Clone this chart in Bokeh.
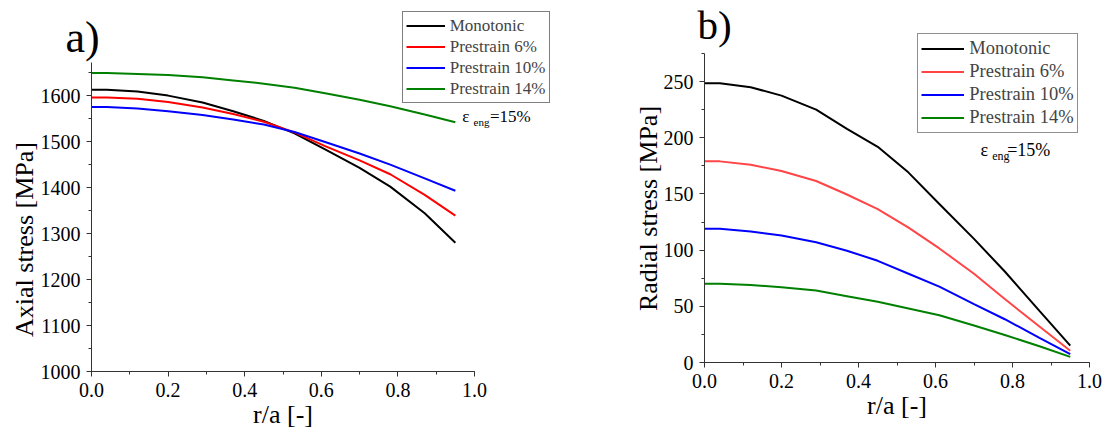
import math
from bokeh.plotting import figure
from bokeh.layouts import row
from bokeh.models import (Legend, LegendItem, Label, LinearAxis, SingleIntervalTicker,
                          NumeralTickFormatter, Range1d)
from bokeh.embed import file_html
from bokeh.resources import INLINE

# normalised radius r/a
r = [0.0, 0.04, 0.12, 0.2, 0.29, 0.37, 0.45, 0.53, 0.61, 0.7, 0.78, 0.87, 0.95]

# axial stress [MPa]
axial_mono = [1613, 1613, 1609, 1600, 1585, 1566, 1545, 1518, 1483, 1443, 1402, 1344, 1280]
axial_6 = [1596, 1596, 1593, 1586, 1574, 1560, 1543, 1520, 1490, 1459, 1429, 1384, 1339]
axial_10 = [1575, 1575, 1572, 1566, 1558, 1548, 1537, 1521, 1499, 1474, 1450, 1420, 1393]
axial_14 = [1649, 1649, 1647, 1645, 1640, 1633, 1626, 1617, 1605, 1591, 1577, 1559, 1542]

# radial stress [MPa]
radial_mono = [248.5, 248.5, 245, 237.5, 225, 208, 192, 169, 141, 110, 81, 46, 15]
radial_6 = [179, 179, 176, 170.5, 161.5, 149.5, 136.5, 120, 101.5, 79, 56.5, 32, 10.5]
radial_10 = [119, 119, 116.5, 113, 107, 99.5, 90.5, 79, 67.5, 52, 38.5, 22, 7.5]
radial_14 = [70, 70, 69, 67, 64, 59, 54, 48, 42, 33, 24.5, 14.5, 5]

series_names = ["Monotonic", "Prestrain 6%", "Prestrain 10%", "Prestrain 14%"]

FONT = "Liberation Serif"
QFONT = '"Liberation Serif", serif'
AXIS_COLOR = "#333333"
W, H = 553, 439


def make_panel(x0_px, x1_px, y_lo, y_hi, y0_px, y1_px, y_interval):
    """Figure whose frame fills the canvas; axes sit at x=0 and y=y_lo."""
    sx = (x1_px - x0_px)            # px per unit of r/a
    sy = (y0_px - y1_px) / (y_hi - y_lo)
    xr = Range1d(-x0_px / sx, (W - x0_px) / sx)
    yr = Range1d(y_lo - (H - y0_px) / sy, y_lo + y0_px / sy)
    p = figure(width=W, height=H, output_backend="svg", toolbar_location=None,
               x_range=xr, y_range=yr, x_axis_type=None, y_axis_type=None,
               min_border=0, background_fill_color="white", border_fill_color="white")
    p.outline_line_color = None
    xaxis = LinearAxis(fixed_location=y_lo, bounds=(0, 1.0),
                       ticker=SingleIntervalTicker(interval=0.2, num_minor_ticks=2),
                       formatter=NumeralTickFormatter(format="0.0"))
    yaxis = LinearAxis(fixed_location=0, bounds=(y_lo, y_hi),
                       ticker=SingleIntervalTicker(interval=y_interval, num_minor_ticks=2))
    for ax in (xaxis, yaxis):
        ax.axis_line_color = AXIS_COLOR
        ax.axis_line_width = 1
        ax.major_tick_line_color = AXIS_COLOR
        ax.minor_tick_line_color = AXIS_COLOR
        ax.major_tick_out = 5
        ax.major_tick_in = 0
        ax.minor_tick_out = 3
        ax.minor_tick_in = 0
        ax.major_label_text_font = QFONT
        ax.major_label_text_font_size = "20px"
        ax.major_label_text_color = "black"
        ax.major_label_standoff = 6
    p.add_layout(xaxis, "below")
    p.add_layout(yaxis, "left")
    return p, sx, sy


def add_text(p, x, y, text, size, **kw):
    p.add_layout(Label(x=x, y=y, text=text, text_font=FONT, text_font_size=size,
                       text_color="black", **kw))


def add_legend(p, renderers, loc, font_size, glyph_w, row_h, standoff, border):
    leg = Legend(items=[LegendItem(label=n, renderers=[g]) for n, g in zip(series_names, renderers)],
                 location=loc, label_text_font=QFONT, label_text_font_size=font_size,
                 glyph_width=glyph_w, glyph_height=row_h, label_height=row_h,
                 label_standoff=standoff, padding=3, spacing=0, margin=0,
                 border_line_color=border, border_line_width=1,
                 background_fill_color="white", background_fill_alpha=1)
    p.add_layout(leg, "center")


def text_at(p, xfun, yfun, px, baseline_py, text, size_px, **kw):
    # labels are anchored at their bottom edge; lift by the font's descent
    add_text(p, xfun(px), yfun(baseline_py - 0.33 * size_px), text, f"{size_px}px",
             text_baseline="alphabetic", **kw)


# ---------------- a) axial stress ----------------
pa, sxa, sya = make_panel(91, 474, 1000, 1672, 371, 62, 100)
colors_a = ["black", "#FF0000", "#0000FF", "#008000"]
rend_a = [pa.line(r, ys, line_color=c, line_width=2)
          for ys, c in zip([axial_mono, axial_6, axial_10, axial_14], colors_a)]
add_legend(pa, rend_a, (401.7, 335.7), "17px", 39, 21, 5, "black")


def ya(py):
    return 1000 + (371 - py) / sya


def xa(px):
    return (px - 91) / sxa


add_text(pa, xa(24), ya(239), "Axial stress [MPa]", "26px", angle=math.pi / 2,
         text_align="center", text_baseline="middle")
text_at(pa, xa, ya, 282.5, 423, "r/a [-]", 26, text_align="center")
text_at(pa, xa, ya, 65, 52, "a)", 44)
text_at(pa, xa, ya, 461.7, 121.7, "ε", 17)
text_at(pa, xa, ya, 473, 125.5, "eng", 11)
text_at(pa, xa, ya, 489.5, 121.7, "=15%", 17)

# ---------------- b) radial stress ----------------
pb, sxb, syb = make_panel(151, 536, 0, 275, 362, 53, 50)
colors_b = ["black", "#FF4545", "#0000FF", "#008000"]
rend_b = [pb.line(r, ys, line_color=c, line_width=2)
          for ys, c in zip([radial_mono, radial_6, radial_10, radial_14], colors_b)]
add_legend(pb, rend_b, (364.3, 306.3), "18.5px", 43, 23, 5, "#222222")


def yb(py):
    return (362 - py) / syb


def xb(px):
    return (px - 151) / sxb


add_text(pb, xb(94.5), yb(208), "Radial stress [MPa]", "26px", angle=math.pi / 2,
         text_align="center", text_baseline="middle")
text_at(pb, xb, yb, 343.5, 414, "r/a [-]", 26, text_align="center")
text_at(pb, xb, yb, 144, 38.5, "b)", 41)
text_at(pb, xb, yb, 427, 155, "ε", 18)
text_at(pb, xb, yb, 438.7, 159, "eng", 12)
text_at(pb, xb, yb, 453.7, 155, "=15%", 18)

layout = row(pa, pb)
open("out.html", "w").write(file_html(layout, INLINE))
